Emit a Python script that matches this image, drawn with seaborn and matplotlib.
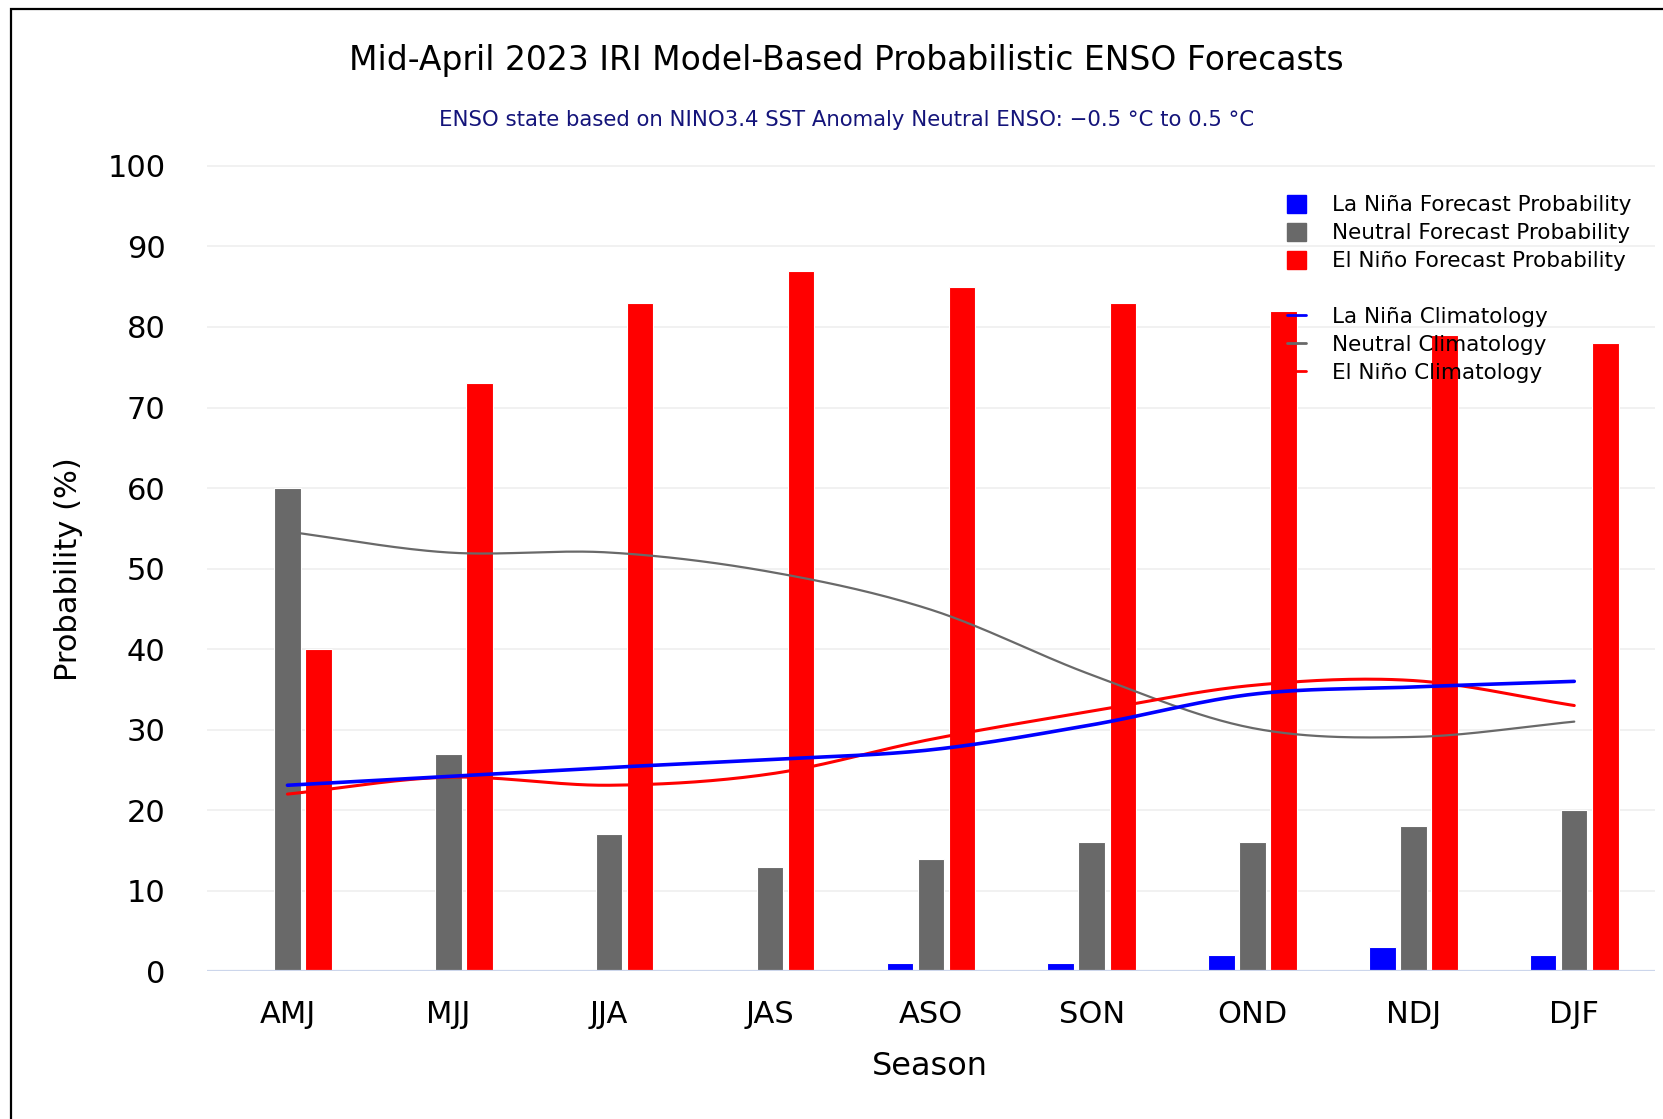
import numpy as np
import pandas as pd
import matplotlib.pyplot as plt
import seaborn as sns
from matplotlib.patches import Patch, Rectangle
from matplotlib.lines import Line2D

seasons = ["AMJ", "MJJ", "JJA", "JAS", "ASO", "SON", "OND", "NDJ", "DJF"]

# forecast probabilities (%)
lanina_prob = [0, 0, 0, 0, 1, 1, 2, 3, 2]
neutral_prob = [60, 27, 17, 13, 14, 16, 16, 18, 20]
elnino_prob = [40, 73, 83, 87, 85, 83, 82, 79, 78]

# climatology (%)
lanina_clim = [23.1, 24.2, 25.3, 26.3, 27.5, 30.6, 34.4, 35.3, 36.0]
neutral_clim = [54.6, 52.0, 52.0, 49.6, 44.9, 36.8, 30.2, 29.1, 31.0]
elnino_clim = [22.0, 24.1, 23.1, 24.5, 28.8, 32.3, 35.5, 36.1, 33.0]

bar_names = ["La Niña Forecast Probability", "Neutral Forecast Probability",
             "El Niño Forecast Probability"]
clim_names = ["La Niña Climatology", "Neutral Climatology", "El Niño Climatology"]
BLUE, GRAY, RED = "#0000ff", "#696969", "#ff0000"

sns.set_style("white")
plt.rcParams['font.family'] = ['DejaVu Sans']
plt.rcParams['text.color'] = 'black'
plt.rcParams['xtick.color'] = 'black'
plt.rcParams['ytick.color'] = 'black'

bars = pd.DataFrame({
    "season": seasons * 3,
    "prob": lanina_prob + neutral_prob + elnino_prob,
    "kind": [bar_names[0]] * 9 + [bar_names[1]] * 9 + [bar_names[2]] * 9,
})


def smooth(ys, n=30):
    # catmull-rom curve through the points, just for the spline look
    ys = np.asarray(ys, dtype=float)
    xs = np.arange(len(ys), dtype=float)
    m = np.gradient(ys)
    px, py = [], []
    for i in range(len(ys) - 1):
        t = np.linspace(0, 1, n, endpoint=False)
        h00 = 2*t**3 - 3*t**2 + 1
        h10 = t**3 - 2*t**2 + t
        h01 = -2*t**3 + 3*t**2
        h11 = t**3 - t**2
        py.append(h00*ys[i] + h10*m[i] + h01*ys[i+1] + h11*m[i+1])
        px.append(xs[i] + t)
    px.append([xs[-1]])
    py.append([ys[-1]])
    return np.concatenate(px), np.concatenate(py)


fig = plt.figure(figsize=(16.63, 11.19), dpi=100)
ax = fig.add_axes([0.1245, 0.132, 0.8705, 0.7262])

sns.barplot(data=bars, x="season", y="prob", hue="kind", order=seasons,
            hue_order=bar_names, palette=[BLUE, GRAY, RED], width=0.58, gap=0.15,
            edgecolor="white", linewidth=0.8, saturation=1, legend=False, ax=ax, zorder=2)

for vals, c, lw in [(neutral_clim, GRAY, 1.6), (elnino_clim, RED, 2.2), (lanina_clim, BLUE, 2.6)]:
    sx, sy = smooth(vals)
    sns.lineplot(x=sx, y=sy, color=c, linewidth=lw, sort=False, ax=ax, zorder=4)

ax.set_xlim(-0.5, 8.5)
ax.set_ylim(0, 100.9)
ax.set_yticks(range(0, 101, 10))
for v in range(10, 101, 10):
    ax.axhline(v, color="#f0f0f0", linewidth=1.3, zorder=0)
ax.axhline(0, color="#ccd6eb", linewidth=1.6, zorder=5)
for s in ax.spines.values():
    s.set_visible(False)
ax.tick_params(axis="y", length=0, pad=30, labelsize=22)
ax.tick_params(axis="x", length=0, pad=21, labelsize=22)
ax.set_xlabel("")
ax.set_ylabel("")

fig.text(0.509, 0.946, "Mid-April 2023 IRI Model-Based Probabilistic ENSO Forecasts",
         ha="center", va="center", fontsize=23.8)
fig.text(0.509, 0.893, "ENSO state based on NINO3.4 SST Anomaly Neutral ENSO: \u22120.5 \u00b0C to 0.5 \u00b0C",
         ha="center", va="center", fontsize=15.3, color="#14147a")
fig.text(0.041, 0.491, "Probability (%)", rotation=90, ha="center", va="center", fontsize=22)
fig.text(0.559, 0.047, "Season", ha="center", va="center", fontsize=23)

handles = [Patch(color=BLUE), Patch(color=GRAY), Patch(color=RED),
           Line2D([], [], linestyle="none"),
           Line2D([], [], color=BLUE, lw=2), Line2D([], [], color=GRAY, lw=2),
           Line2D([], [], color=RED, lw=2)]
labels = bar_names + [""] + clim_names
fig.legend(handles, labels, loc="upper left", bbox_to_anchor=(0.762, 0.843),
           frameon=False, fontsize=15.5, handlelength=0.9, handleheight=0.9,
           handletextpad=1.2, labelspacing=0.35)

fig.add_artist(Rectangle((0.0064, -0.05), 1.1, 1.0424, transform=fig.transFigure,
                         fill=False, edgecolor="black", linewidth=1.6))

fig.savefig("out.png", dpi=100)
